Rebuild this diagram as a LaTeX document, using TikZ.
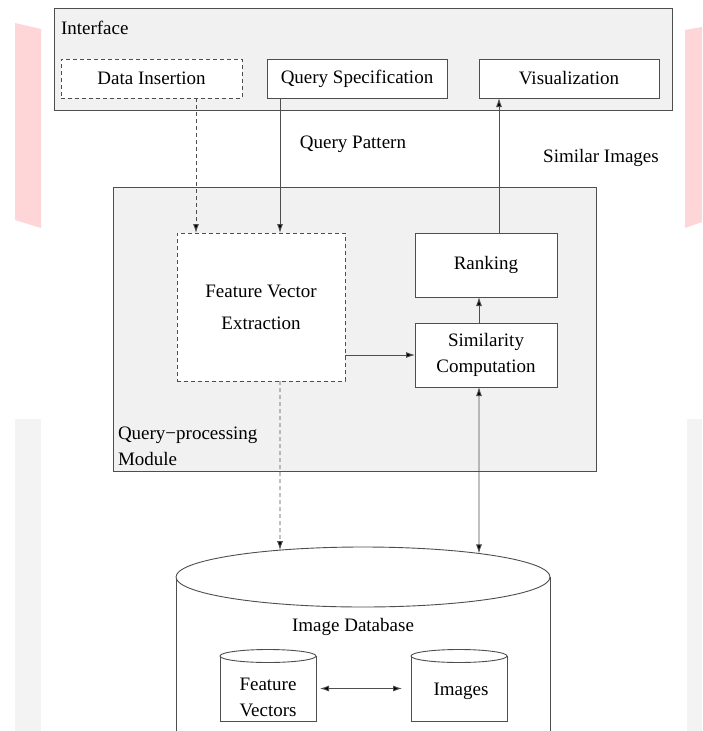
\documentclass[tikz,border=0pt]{standalone}
\usepackage{fontspec}
\setmainfont{Liberation Serif}
\usetikzlibrary{arrows.meta,intersections,calc,shapes.geometric}
\definecolor{pinkbg}{HTML}{FFD6D8}
\definecolor{graybg}{HTML}{F3F3F3}
\definecolor{boxfill}{HTML}{F1F1F1}
\definecolor{ln}{HTML}{4E4E4E}
\begin{document}
\begin{tikzpicture}[x=1pt,y=-1pt,
  font=\fontsize{19}{26}\selectfont,
  every node/.style={inner sep=0pt, outer sep=0pt},
  linestyle/.style={draw=ln, line width=0.9pt},
  panel/.style={linestyle, fill=boxfill},
  solidbox/.style={linestyle, fill=white, align=center},
  dashbox/.style={solidbox, dash pattern=on 4pt off 3pt},
  cylbody/.style={},
  tipA/.tip={Latex[length=9pt,width=6pt,fill=black]},
  conn/.style={linestyle, -tipA},
  dconn/.style={conn, dash pattern=on 4pt off 3pt},
  biconn/.style={linestyle, tipA-tipA},
  lbl/.style={text=black}
]
\useasboundingbox (0,0) rectangle (702,731);
\clip (0,0) rectangle (702,731);
\fill[white] (0,0) rectangle (702,731);
% background artefacts
\fill[pinkbg] (15,23) -- (41,29) -- (41,228) -- (15,220) -- cycle;
\fill[pinkbg] (685,30) -- (702,27) -- (702,222) -- (685,228) -- cycle;
\fill[graybg] (15,419) rectangle (41,731);
\fill[graybg] (687,419) rectangle (702,731);

% Interface panel
\node[panel, minimum width=618pt, minimum height=102pt] (iface) at (363,59) {};
\node[lbl, anchor=west] (ifl) at (61,28) {Interface};
\node[dashbox, minimum width=181pt, minimum height=39pt] (datains) at (151.5,78.5) {Data Insertion};
\node[solidbox, minimum width=180pt, minimum height=39pt] (qspec) at (357,78.5) {Query Specification};
\node[solidbox, minimum width=180pt, minimum height=39pt] (vis) at (569,78.5) {Visualization};

% labels between
\node[lbl] (qpat) at (353,144) {Query Pattern};
\node[lbl] (simimg) at (601,158) {Similar Images};

% Query-processing module
\node[panel, minimum width=483pt, minimum height=284pt] (qpm) at (354.5,329) {};
\node[lbl, anchor=west, align=left] (qpml) at (118,446) {Query−processing\\Module};
\node[dashbox, minimum width=168pt, minimum height=148pt] (fve) at (261,307) {Feature Vector\\[6pt]Extraction};
\node[solidbox, minimum width=142pt, minimum height=64pt] (rank) at (486,265) {Ranking};
\node[solidbox, minimum width=142pt, minimum height=64pt] (sim) at (486,355) {Similarity\\Computation};

% Image database
\draw[linestyle] (176,577) -- (176,745);
\draw[linestyle] (550,577) -- (550,745);
\node[linestyle, fill=white, ellipse, minimum width=374pt, minimum height=60pt, name path=dbp] (db) at (363,577) {};
\node[lbl] (dbl) at (353,627) {Image Database};

\node[cylbody, minimum width=96pt, minimum height=65pt] (fv) at (268,688.5) {};
\draw[linestyle] (fv.north west) -- (fv.south west) -- (fv.south east) -- (fv.north east);
\draw[linestyle, fill=white] (fv.north) ellipse [x radius=48pt, y radius=6.5pt];
\node[lbl, align=center] (fvt) at (268,697) {Feature\\Vectors};

\node[cylbody, minimum width=96pt, minimum height=65pt] (img) at (459,688.5) {};
\draw[linestyle] (img.north west) -- (img.south west) -- (img.south east) -- (img.north east);
\draw[linestyle, fill=white] (img.north) ellipse [x radius=48pt, y radius=6.5pt];
\node[lbl] (imgt) at (461,691) {Images};

% connector positions
\coordinate (da) at ([xshift=19pt]fve.north west);
\coordinate (qa) at ([xshift=13pt]qspec.south west);
\coordinate (sa) at ([xshift=-7pt]sim.south);
\coordinate (ra) at ([xshift=13pt]rank.north);

\draw[dconn] (da |- datains.south) -- (da);
\draw[conn] (qa) -- (qa |- fve.north);
\draw[conn] (ra) -- (ra |- vis.south);
\draw[conn] (sa |- sim.north) -- (sa |- rank.south);
\draw[conn] (fve.east |- sim.west) -- (sim.west);

\path[name path=v1] (qa |- fve.south) -- ++(0,250);
\path[name intersections={of=v1 and dbp, by=i1}];
\draw[dconn] (qa |- fve.south) -- (i1);

\path[name path=v2] (sa) -- ++(0,250);
\path[name intersections={of=v2 and dbp, by=i2}];
\draw[biconn] (sa) -- (i2);

\draw[biconn] ([xshift=4pt]fv.east) -- ([xshift=-9pt]img.west);
\end{tikzpicture}
\end{document}
